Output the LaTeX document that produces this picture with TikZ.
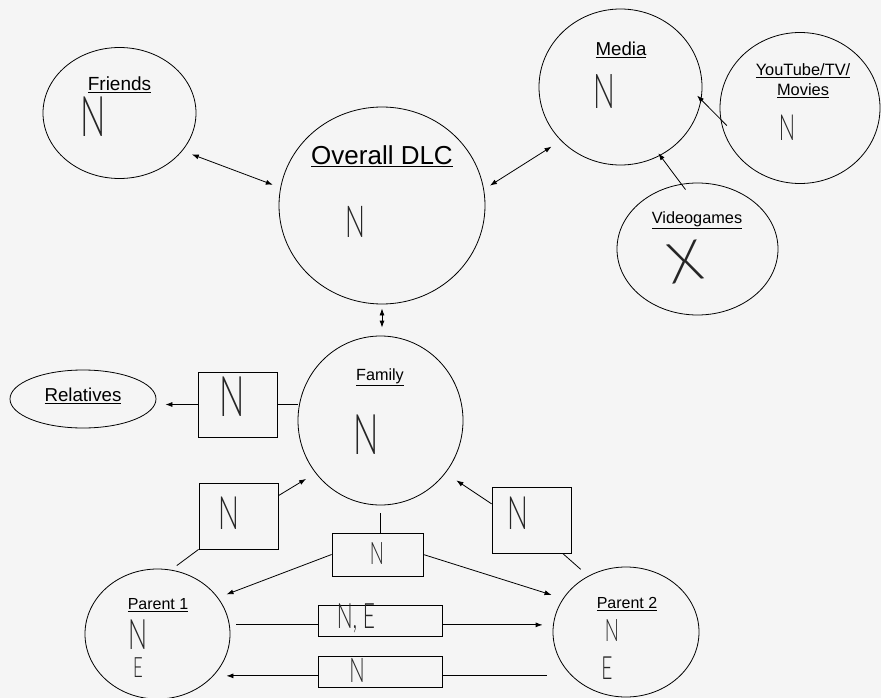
\documentclass[tikz,border=0pt]{standalone}
\usepackage{fontspec}
\setmainfont{Liberation Sans}
\newfontfamily\handfont{Lato}[UprightFont=* Light,FakeStretch=0.6]
\newfontfamily\handwidefont{Lato}[UprightFont=* Light]
\usepackage{tikz}
\usetikzlibrary{positioning,shapes.geometric,arrows.meta}

\begin{document}
\begin{tikzpicture}[x=1pt,y=-1pt,line width=0.8pt,>={Latex[length=7pt,width=5pt]},
		bubble/.style={draw,ellipse,inner sep=0pt},
		valbox/.style={draw,rectangle,inner sep=0pt},
		title/.style={inner sep=0pt,font=\fontsize{#1}{#1}\selectfont},
		hand/.style={inner sep=0pt,text=black!85,font=\handfont\fontsize{#1}{#1}\selectfont},
		handwide/.style={inner sep=0pt,text=black!85,font=\handwidefont\fontsize{#1}{#1}\selectfont}]
		\useasboundingbox (0,0) rectangle (881,698);
		\fill[black!4] (0,0) rectangle (881,698);
		% circles
		\node[bubble,minimum width=153pt,minimum height=131pt] (friends) at (119.5,113) {};
		\node[bubble,minimum width=206pt,minimum height=197pt] (dlc) at (382,205.5) {};
		\node[bubble,minimum width=163pt,minimum height=156pt] (media) at (620.5,87) {};
		\node[bubble,minimum width=160pt,minimum height=151pt] (youtube) at (800,108) {};
		\node[bubble,minimum width=161pt,minimum height=132pt] (games) at (697.5,249) {};
		\node[bubble,minimum width=146pt,minimum height=58pt] (relatives) at (83,399) {};
		\node[bubble,minimum width=165pt,minimum height=169pt] (family) at (380.5,420.5) {};
		\node[bubble,minimum width=145pt,minimum height=130pt] (parentA) at (157.5,634) {};
		\node[bubble,minimum width=146pt,minimum height=130pt] (parentB) at (626,632) {};
		% boxes
		\node[valbox,minimum width=79pt,minimum height=65pt] (relbox) at (237.5,404.5) {};
		\node[valbox,minimum width=79pt,minimum height=66pt] (upbox) at (238.5,516) {};
		\node[valbox,minimum width=91pt,minimum height=43pt] (downbox) at (377.5,554.5) {};
		\node[valbox,minimum width=79pt,minimum height=66pt] (backbox) at (531.5,520) {};
		\node[valbox,minimum width=124pt,minimum height=31pt] (nebox) at (380,620.5) {};
		\node[valbox,minimum width=124pt,minimum height=31pt] (nbox) at (380,671.5) {};
		% titles
		\node[title=19] (tf) at (119.5,85) {\underline{Friends}};
		\node[title=26] (td) at (382,156) {\underline{Overall DLC}};
		\node[title=18.7] (tm) at (621,50) {\underline{Media}};
		\node[title=16.4] (ty) at (803,71) {\underline{YouTube/TV/}};
		\node[title=16.4] (ty2) at (803,91) {\underline{Movies}};
		\node[title=16.3] (tg) at (697,220) {\underline{Videogames}};
		\node[title=18.7] (tr) at (83,396) {\underline{Relatives}};
		\node[title=16.2] (tfa) at (380,377) {\underline{Family}};
		\node[title=16] (tpa) at (158,605) {\underline{Parent 1}};
		\node[title=16] (tpb) at (627,604) {\underline{Parent 2}};
		% marks
		\node[hand=56] (nf) at (93,117) {N};
		\node[hand=44] (nd) at (355,222) {N};
		\node[hand=48] (nm) at (604,92) {N};
		\node[hand=36] (ny) at (787,128) {N};
		\node[handwide=56,rotate=10] (xg) at (685,262) {X};
		\node[hand=56] (nr) at (232,397) {N};
		\node[hand=56] (nfa) at (366,435) {N};
		\node[hand=46] (nu) at (229,513) {N};
		\node[hand=31] (nw) at (377,554) {N};
		\node[hand=46] (nb) at (518,513) {N};
		\node[hand=35] (ne) at (356,618) {N,~E};
		\node[hand=34] (nn) at (357,670) {N};
		\node[hand=42] (npa) at (138,635) {N};
		\node[hand=28] (epa) at (138,668) {E};
		\node[hand=31] (npb) at (612,631) {N};
		\node[hand=32] (epb) at (607,668) {E};
		% connectors
		\draw[<->,shorten <=10pt,shorten >=8pt] (friends.-31) -- (dlc.170);
		\draw[<->,shorten <=4pt,shorten >=8pt] (dlc.south) -- (dlc.south |- family.north);
		\draw[<->,shorten <=7pt,shorten >=11pt] (dlc.9) -- (media.222);
		\draw[->,shorten <=-9pt,shorten >=-6pt] (youtube.188) -- (media.351);
		\draw[->,shorten <=-7pt,shorten >=-3pt] (games.104) -- (media.300);
		\draw[->,shorten >=9pt] (relbox.west) -- (relbox.west -| relatives.east);
		\draw (relbox.east) -- (relbox.east -| family.west);
		\draw[shorten <=7pt] (parentA.78) -- (upbox.south west);
		\draw[->,shorten >=11pt] (upbox.27) -- (family.219);
		\draw[shorten <=8pt] (family.south) -- (family.south |- downbox.north);
		\draw[->,shorten >=9pt] (downbox.west) -- (parentA.31);
		\draw[->,shorten >=12pt] (downbox.east) -- (parentB.152);
		\draw[shorten <=10pt] (parentB.124) -- (backbox.-47);
		\draw[->,shorten >=13pt] (backbox.158) -- (family.321);
		\draw[shorten >=6pt] (nebox.184) -- (nebox.184 -| parentA.east);
		\draw[->,shorten >=10pt] (nebox.-4) -- (nebox.-4 -| parentB.west);
		\draw[shorten >=6pt] (nbox.-4) -- (nbox.-4 -| parentB.west);
		\draw[->,shorten >=-4pt] (nbox.184) -- (nbox.184 -| parentA.east);
\end{tikzpicture}
\end{document}
